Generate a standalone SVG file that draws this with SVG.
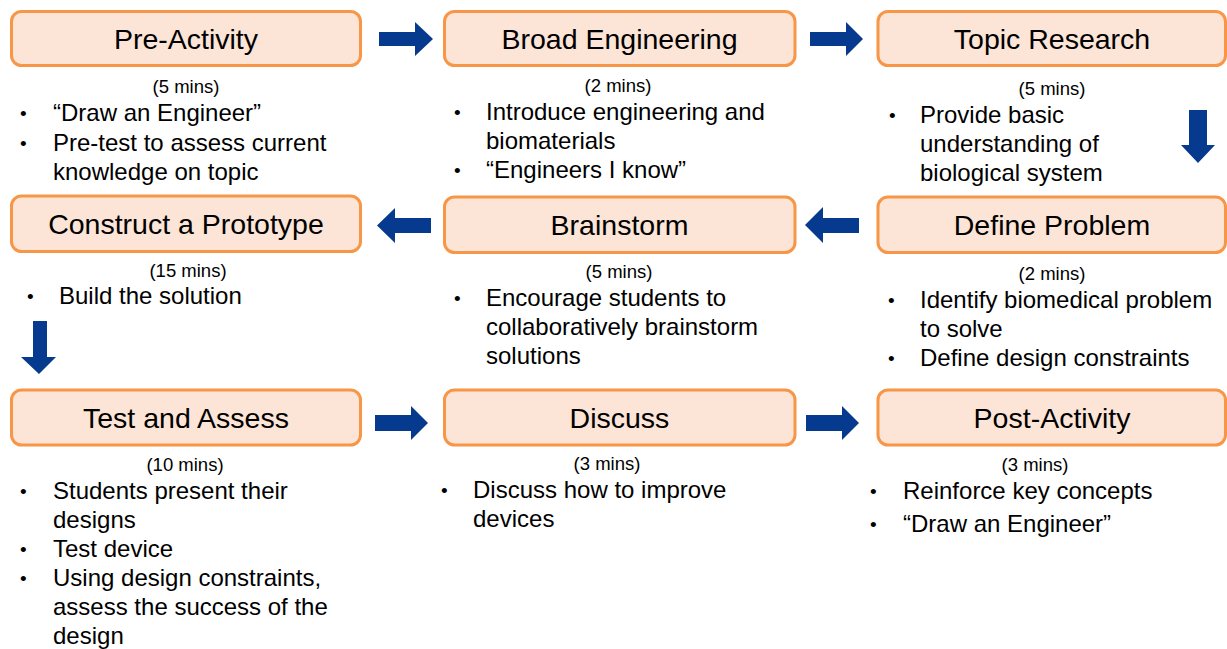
<svg xmlns="http://www.w3.org/2000/svg" width="1227" height="649" viewBox="0 0 1227 649">
<style>
.box{fill:#FCE4D6;stroke:#F79646;stroke-width:3}
.t{font-family:"Liberation Sans",Arial,sans-serif;font-size:28.5px;fill:#000;text-anchor:middle}
.m{font-family:"Liberation Sans",Arial,sans-serif;font-size:18.5px;fill:#000;text-anchor:middle}
.b{font-family:"Liberation Sans",Arial,sans-serif;font-size:24px;fill:#000}
.d{font-family:"Liberation Sans",Arial,sans-serif;font-size:19px;fill:#000}
.arr{fill:#063A8E}
</style>
<rect width="1227" height="649" fill="#fff"/>
<g id="pre-activity">
<rect class="box" x="11.5" y="11.5" width="349" height="54" rx="10"/>
<text class="t" x="186" y="49">Pre-Activity</text>
<text class="m" x="186" y="93">(5 mins)</text>
<text class="d" x="20" y="120">•</text><text class="b" x="53" y="121">“Draw an Engineer”</text>
<text class="d" x="20" y="150">•</text><text class="b" x="53" y="151">Pre-test to assess current</text>
<text class="b" x="53" y="180">knowledge on topic</text>
</g>
<g id="broad-engineering">
<rect class="box" x="444.5" y="11.5" width="350.5" height="54" rx="10"/>
<text class="t" x="619.5" y="49">Broad Engineering</text>
<text class="m" x="618" y="92">(2 mins)</text>
<text class="d" x="454" y="119">•</text><text class="b" x="486" y="120">Introduce engineering and</text>
<text class="b" x="486" y="149">biomaterials</text>
<text class="d" x="454" y="177">•</text><text class="b" x="486" y="178">“Engineers I know”</text>
</g>
<g id="topic-research">
<rect class="box" x="878" y="11.5" width="347.5" height="54" rx="10"/>
<text class="t" x="1052" y="49">Topic Research</text>
<text class="m" x="1052" y="95">(5 mins)</text>
<text class="d" x="889" y="122">•</text><text class="b" x="920" y="123">Provide basic</text>
<text class="b" x="920" y="152">understanding of</text>
<text class="b" x="920" y="181">biological system</text>
</g>
<g id="construct-prototype">
<rect class="box" x="11.5" y="196" width="349" height="55.5" rx="10"/>
<text class="t" x="186" y="234">Construct a Prototype</text>
<text class="m" x="188" y="277">(15 mins)</text>
<text class="d" x="27" y="303">•</text><text class="b" x="59" y="304">Build the solution</text>
</g>
<g id="brainstorm">
<rect class="box" x="444.5" y="197" width="350.5" height="55.5" rx="10"/>
<text class="t" x="619.5" y="235">Brainstorm</text>
<text class="m" x="619" y="278">(5 mins)</text>
<text class="d" x="454" y="305">•</text><text class="b" x="486" y="306">Encourage students to</text>
<text class="b" x="486" y="335">collaboratively brainstorm</text>
<text class="b" x="486" y="364">solutions</text>
</g>
<g id="define-problem">
<rect class="box" x="878" y="197" width="347.5" height="55.5" rx="10"/>
<text class="t" x="1052" y="235">Define Problem</text>
<text class="m" x="1052" y="280">(2 mins)</text>
<text class="d" x="888" y="307">•</text><text class="b" x="920" y="308">Identify biomedical problem</text>
<text class="b" x="920" y="337">to solve</text>
<text class="d" x="888" y="365">•</text><text class="b" x="920" y="366">Define design constraints</text>
</g>
<g id="test-assess">
<rect class="box" x="11.5" y="390" width="349" height="55" rx="10"/>
<text class="t" x="186" y="428">Test and Assess</text>
<text class="m" x="185" y="471">(10 mins)</text>
<text class="d" x="20" y="498">•</text><text class="b" x="53" y="499">Students present their</text>
<text class="b" x="53" y="528">designs</text>
<text class="d" x="20" y="556">•</text><text class="b" x="53" y="557">Test device</text>
<text class="d" x="20" y="585">•</text><text class="b" x="53" y="586">Using design constraints,</text>
<text class="b" x="53" y="615">assess the success of the</text>
<text class="b" x="53" y="644">design</text>
</g>
<g id="discuss">
<rect class="box" x="444.5" y="390" width="350.5" height="55" rx="10"/>
<text class="t" x="619.5" y="428">Discuss</text>
<text class="m" x="607" y="470">(3 mins)</text>
<text class="d" x="441" y="497">•</text><text class="b" x="473" y="498">Discuss how to improve</text>
<text class="b" x="473" y="527">devices</text>
</g>
<g id="post-activity">
<rect class="box" x="878" y="390" width="347.5" height="55" rx="10"/>
<text class="t" x="1052" y="428">Post-Activity</text>
<text class="m" x="1035" y="471">(3 mins)</text>
<text class="d" x="870" y="498">•</text><text class="b" x="903" y="499">Reinforce key concepts</text>
<text class="d" x="870" y="531">•</text><text class="b" x="903" y="532">“Draw an Engineer”</text>
</g>
<g id="connectors">
<polygon class="arr" points="379,32 415,32 415,22 433,39 415,56 415,46 379,46"/>
<polygon class="arr" points="810,32 846,32 846,22 863,39 846,56 846,46 810,46"/>
<polygon class="arr" points="1189,110 1207,110 1207,145 1215,145 1198,163 1181,145 1189,145"/>
<polygon class="arr" points="859,218 823,218 823,207 805,225 823,243 823,233 859,233"/>
<polygon class="arr" points="431,218 395,218 395,208 377,225.5 395,243 395,233 431,233"/>
<polygon class="arr" points="33,321 47,321 47,357 56,357 39,374 21,357 33,357"/>
<polygon class="arr" points="375,415 411,415 411,406 428,423 411,440 411,431 375,431"/>
<polygon class="arr" points="806,415 842,415 842,406 859,423 842,440 842,431 806,431"/>
</g>
</svg>
